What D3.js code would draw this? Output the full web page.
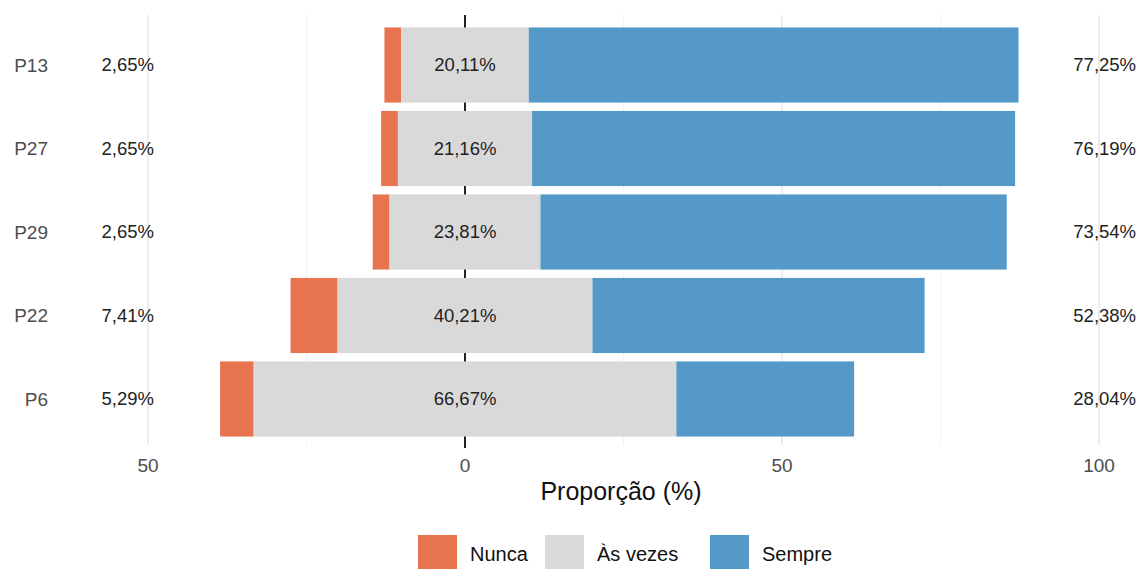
<!DOCTYPE html>
<html>
<head>
<meta charset="utf-8">
<script src="https://cdn.jsdelivr.net/npm/d3@7"></script>
<style>
  body { margin: 0; background: #fff; }
  text { font-family: "Liberation Sans", Arial, sans-serif; }
</style>
</head>
<body>
<div id="chart"></div>
<script>
// data (percentages)
var items   = ["P13", "P27", "P29", "P22", "P6"];
var nunca   = [2.65, 2.65, 2.65, 7.41, 5.29];
var asVezes = [20.11, 21.16, 23.81, 40.21, 66.67];
var sempre  = [77.25, 76.19, 73.54, 52.38, 28.04];
var levels  = ["Nunca", "Às vezes", "Sempre"];
var colors  = ["#e8744f", "#d9d9d9", "#5499c7"];
var majorTicks = [-50, 0, 50, 100];
var minorTicks = [-25, 25, 75];

var W = 1139, H = 569;
var svg = d3.select("#chart").append("svg")
    .attr("width", W)
    .attr("height", H);

var panel = {t: 15, b: 445};

var x = d3.scaleLinear().domain([-50, 100]).range([148, 1099]);
var y = d3.scaleBand().domain(items).range([panel.t + 2, panel.b + 2])
    .paddingInner(0.1).paddingOuter(0.125);

function fmt(v) { return v.toFixed(2).replace(".", ",") + "%"; }

// gridlines
svg.selectAll(".minor").data(minorTicks).enter().append("line")
    .attr("x1", d => x(d)).attr("x2", d => x(d))
    .attr("y1", panel.t).attr("y2", panel.b)
    .attr("stroke", "#f2f2f2").attr("stroke-width", 1);
svg.selectAll(".major").data(majorTicks.filter(d => d !== 0)).enter().append("line")
    .attr("x1", d => x(d)).attr("x2", d => x(d))
    .attr("y1", panel.t).attr("y2", panel.b)
    .attr("stroke", "#e6e6e6").attr("stroke-width", 1.4);

// zero line (behind bars)
svg.append("line")
    .attr("x1", x(0)).attr("x2", x(0))
    .attr("y1", panel.t).attr("y2", panel.b + 3)
    .attr("stroke", "#222").attr("stroke-width", 2);

// stacked diverging bars
var rows = items.map(function(p, i) {
  var half = asVezes[i] / 2;
  return [
    {item: p, x0: -half - nunca[i], x1: -half, c: colors[0]},
    {item: p, x0: -half, x1: half, c: colors[1]},
    {item: p, x0: half, x1: half + sempre[i], c: colors[2]}
  ];
});
svg.selectAll(".bar").data(rows.flat()).enter().append("rect")
    .attr("x", d => x(d.x0))
    .attr("width", d => x(d.x1) - x(d.x0))
    .attr("y", d => y(d.item))
    .attr("height", y.bandwidth())
    .attr("fill", d => d.c);

var cy = d => y(d) + y.bandwidth() / 2;

// labels
var lab = svg.append("g").attr("font-size", 18.5).attr("fill", "#222");
items.forEach(function(p, i) {
  lab.append("text").attr("x", x(-53.2)).attr("y", cy(p)).attr("dy", "0.35em")
      .attr("text-anchor", "middle").text(fmt(nunca[i]));
  lab.append("text").attr("x", x(0)).attr("y", cy(p)).attr("dy", "0.35em")
      .attr("text-anchor", "middle").text(fmt(asVezes[i]));
  lab.append("text").attr("x", x(100.9)).attr("y", cy(p)).attr("dy", "0.35em")
      .attr("text-anchor", "middle").text(fmt(sempre[i]));
});

// y axis labels
svg.selectAll(".ylab").data(items).enter().append("text")
    .attr("x", 48).attr("y", d => cy(d)).attr("dy", "0.35em")
    .attr("text-anchor", "end").attr("font-size", 19).attr("fill", "#4d4d4d")
    .text(d => d);

// x axis tick labels
svg.selectAll(".xlab").data(majorTicks).enter().append("text")
    .attr("x", d => x(d)).attr("y", 472)
    .attr("text-anchor", "middle").attr("font-size", 19).attr("fill", "#4d4d4d")
    .text(d => Math.abs(d));

svg.append("text").attr("x", 621).attr("y", 500)
    .attr("text-anchor", "middle").attr("font-size", 25).attr("fill", "#111")
    .text("Proporção (%)");

// legend
var legX = [418, 545, 710];
var lg = svg.selectAll(".leg").data(levels).enter().append("g")
    .attr("transform", (d, i) => "translate(" + legX[i] + ",535)");
lg.append("rect").attr("width", 39).attr("height", 39)
    .attr("fill", (d, i) => colors[i]);
lg.append("text").attr("x", 52).attr("y", 19).attr("dy", "0.35em")
    .attr("font-size", 20).attr("fill", "#111").text(d => d);
</script>
</body>
</html>
